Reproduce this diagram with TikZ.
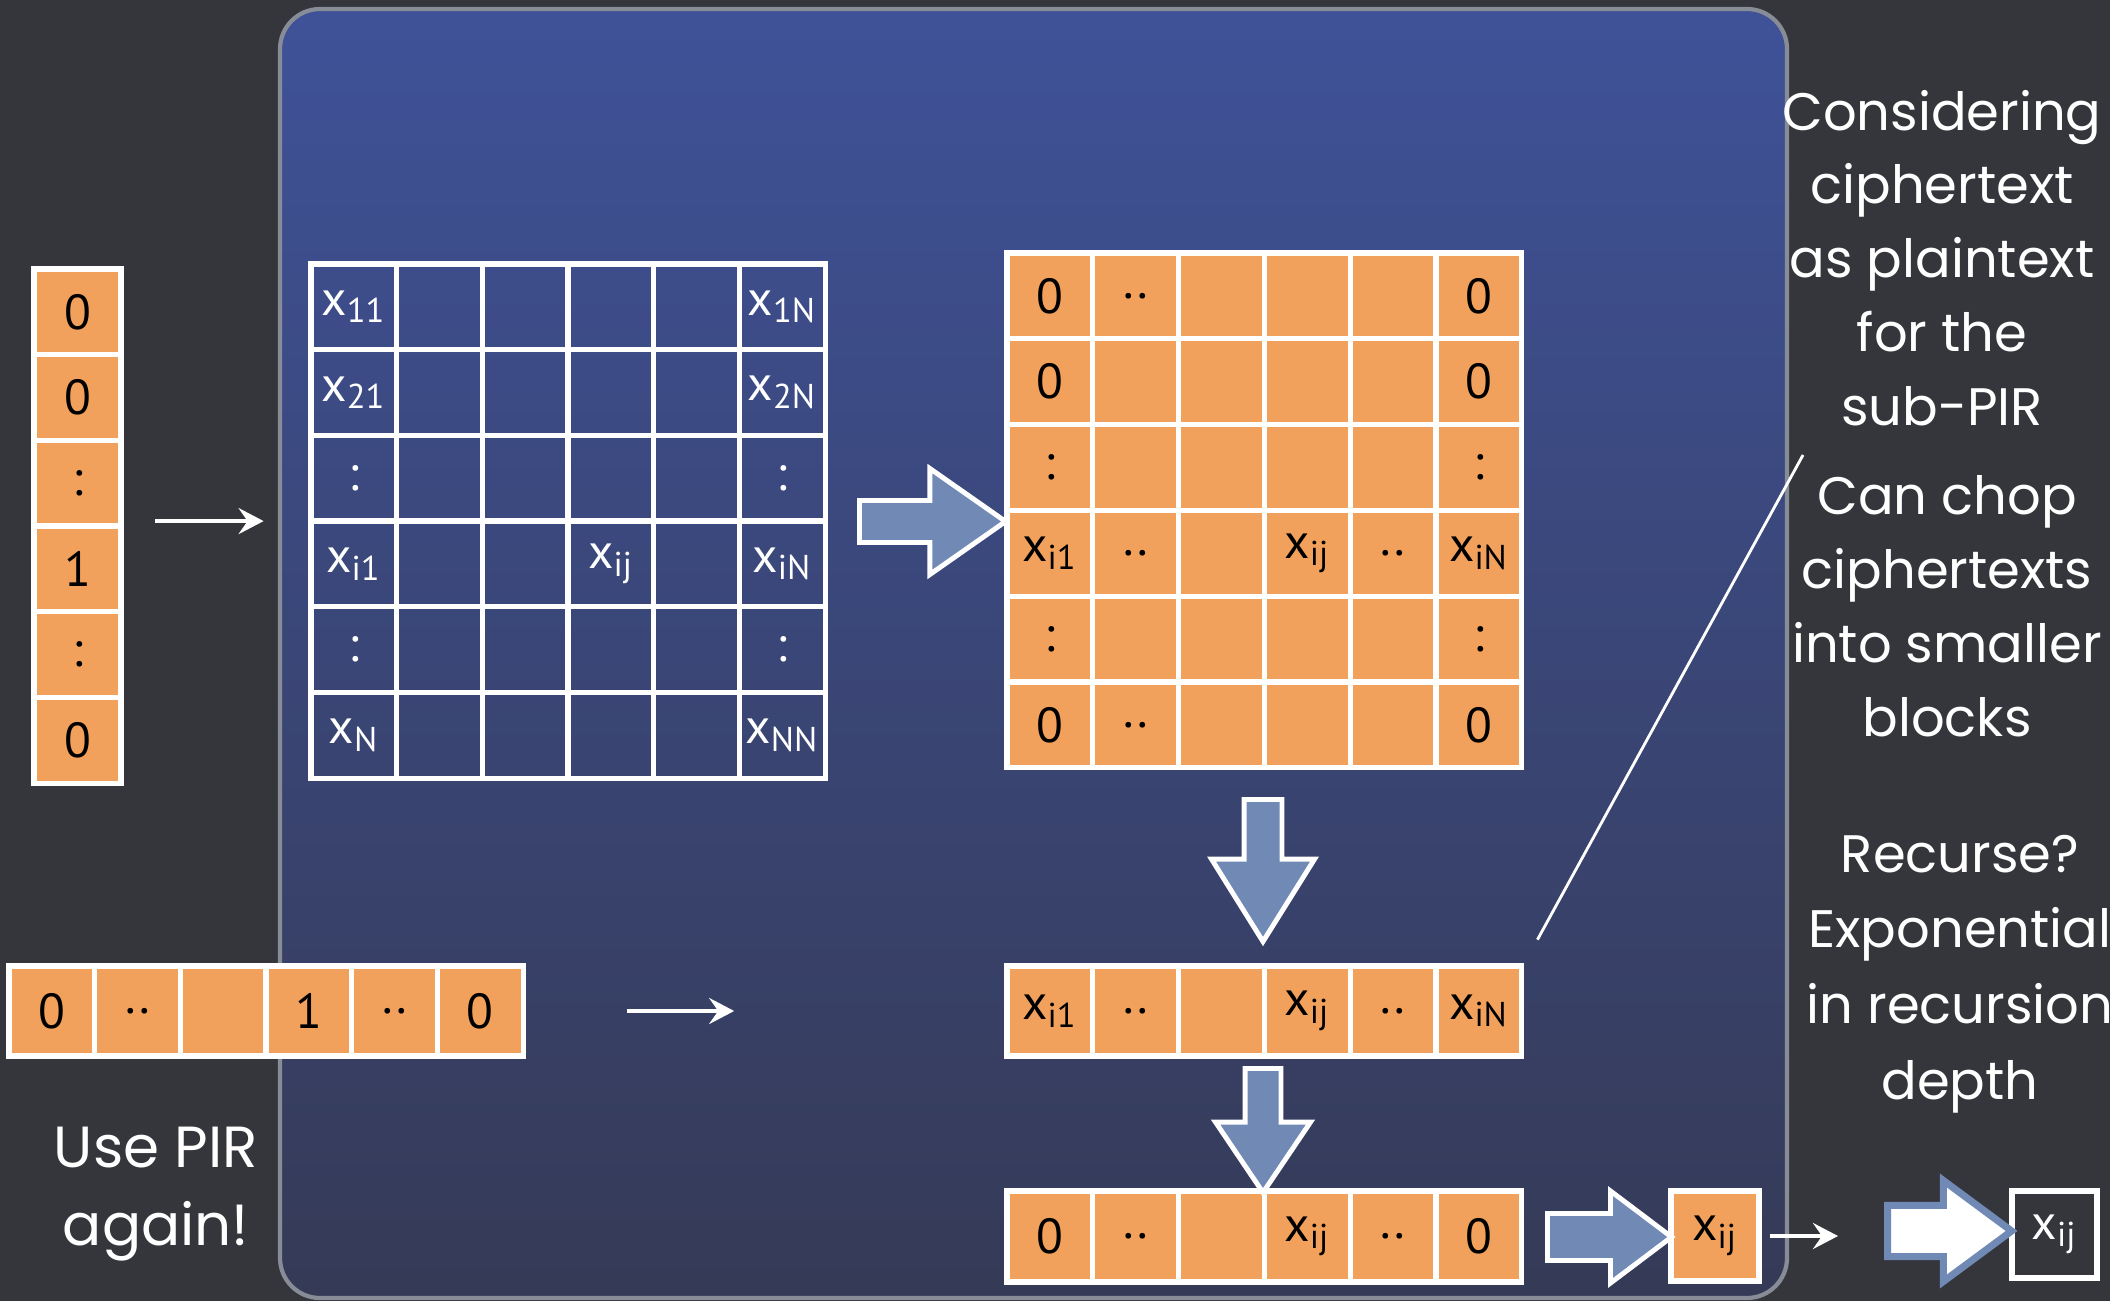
\documentclass[tikz,border=0pt]{standalone}
\usepackage{fontspec}
\setmainfont{Poppins}
\newfontfamily\cellfont{PT Sans}
\usetikzlibrary{shapes.arrows,arrows.meta,calc,fit}

\definecolor{slate}{RGB}{52,54,60}
\definecolor{paneltop}{RGB}{63,82,152}
\definecolor{panelbot}{RGB}{53,58,86}
\definecolor{cellorange}{RGB}{241,161,91}
\definecolor{arrblue}{RGB}{112,137,181}
\definecolor{rim}{RGB}{135,140,150}

\newcommand{\xs}[1]{x\textsubscript{#1}}

\tikzset{
	cellbase/.style={rectangle, draw=white, line width=1.5pt, inner sep=0pt,
		minimum width=0.857cm, minimum height=0.857cm, font=\cellfont\fontsize{14}{16}\selectfont},
	ocell/.style={cellbase, fill=cellorange, text=black},
	bcell/.style={cellbase, text=white},
	bigarr/.style={single arrow, draw=white, line width=1.4pt, fill=arrblue,
		inner sep=0pt, single arrow tip angle=70, anchor=tail},
	thinarr/.style={-{Stealth[length=2.5mm, width=2.6mm, inset=0.9mm]}, white, line width=1.1pt},
	note/.style={text=white, align=center, font=\fontsize{15}{21}\selectfont}
}

\begin{document}
\begin{tikzpicture}[x=0.01cm, y=-0.01cm]
	\useasboundingbox (0,0) rectangle (2110,1301);
	\fill[slate] (0,0) rectangle (2110,1301);
	\draw[rim, line width=1.2pt, rounded corners=0.4cm, top color=paneltop, bottom color=panelbot] (280,9) rectangle (1787,1298);

	% query vector
	\foreach \t [count=\n] in {0,0,:,1,:,0}
		\node[ocell, minimum width=0.87cm] (q-\n) at (77.5, {269+85.7*(\n-0.5)}) {\t};

	% database
	\foreach \t [count=\n] in {{\xs{11}},{},{},{},{},{\xs{1N}}}
		\node[bcell] (d-1-\n) at ({311+85.7*(\n-0.5)}, 306.9) {\t};
	\foreach \t [count=\n] in {{\xs{21}},{},{},{},{},{\xs{2N}}}
		\node[bcell] (d-2-\n) at ({311+85.7*(\n-0.5)}, 392.6) {\t};
	\foreach \t [count=\n] in {:,{},{},{},{},:}
		\node[bcell] (d-3-\n) at ({311+85.7*(\n-0.5)}, 478.2) {\t};
	\foreach \t [count=\n] in {{\xs{i1}},{},{},{\xs{ij}},{},{\xs{iN}}}
		\node[bcell] (d-4-\n) at ({311+85.7*(\n-0.5)}, 563.9) {\t};
	\foreach \t [count=\n] in {:,{},{},{},{},:}
		\node[bcell] (d-5-\n) at ({311+85.7*(\n-0.5)}, 649.6) {\t};
	\foreach \t [count=\n] in {{\xs{N}},{},{},{},{},{\xs{NN}}}
		\node[bcell] (d-6-\n) at ({311+85.7*(\n-0.5)}, 735.3) {\t};

	% answer matrix
	\foreach \t [count=\n] in {0,..,{},{},{},0}
		\node[ocell] (a-1-\n) at ({1007+85.8*(\n-0.5)}, 295.9) {\t};
	\foreach \t [count=\n] in {0,{},{},{},{},0}
		\node[ocell] (a-2-\n) at ({1007+85.8*(\n-0.5)}, 381.7) {\t};
	\foreach \t [count=\n] in {:,{},{},{},{},:}
		\node[ocell] (a-3-\n) at ({1007+85.8*(\n-0.5)}, 467.5) {\t};
	\foreach \t [count=\n] in {{\xs{i1}},..,{},{\xs{ij}},..,{\xs{iN}}}
		\node[ocell] (a-4-\n) at ({1007+85.8*(\n-0.5)}, 553.3) {\t};
	\foreach \t [count=\n] in {:,{},{},{},{},:}
		\node[ocell] (a-5-\n) at ({1007+85.8*(\n-0.5)}, 639.1) {\t};
	\foreach \t [count=\n] in {0,..,{},{},{},0}
		\node[ocell] (a-6-\n) at ({1007+85.8*(\n-0.5)}, 724.9) {\t};

	% rows
	\foreach \t [count=\n] in {{\xs{i1}},..,{},{\xs{ij}},..,{\xs{iN}}}
		\node[ocell, minimum width=0.858cm, minimum height=0.9cm] (s-\n) at ({1007+85.8*(\n-0.5)}, 1011) {\t};
	\foreach \t [count=\n] in {0,..,{},{\xs{ij}},..,0}
		\node[ocell, minimum width=0.858cm, minimum height=0.91cm] (t-\n) at ({1007+85.8*(\n-0.5)}, 1236.5) {\t};
	\foreach \t [count=\n] in {0,..,{},1,..,0}
		\node[ocell, minimum height=0.9cm] (p-\n) at ({9+85.7*(\n-0.5)}, 1011) {\t};
	\node[ocell, minimum width=0.88cm, minimum height=0.9cm] (xo) at (1715,1236) {\xs{ij}};
	\node[bcell, fill=slate, minimum width=0.85cm, minimum height=0.87cm] (xf) at (2054.5,1234.5) {\xs{ij}};

	% block arrows
	\node[bigarr, minimum height=1.46cm, inner ysep=0.185cm, single arrow head extend=0.32cm] (ba) at (857,521.5) {};
	\node[bigarr, rotate=-90, minimum height=1.42cm, inner ysep=0.165cm, single arrow head extend=0.325cm, single arrow tip angle=64] (bb) at (1263,797) {};
	\node[bigarr, rotate=-90, minimum height=1.24cm, inner ysep=0.155cm, single arrow head extend=0.295cm, single arrow tip angle=68] (bc) at (1263,1066) {};
	\node[bigarr, minimum height=1.24cm, inner ysep=0.21cm, single arrow head extend=0.225cm, single arrow tip angle=74] (bd) at (1545,1237) {};
	\node[bigarr, fill=white, draw=arrblue, line width=2pt, minimum height=1.24cm, inner ysep=0.22cm, single arrow head extend=0.25cm, single arrow tip angle=73] (be) at (1884,1231) {};

	% thin arrows
	\node[fit=(q-1)(q-6), inner sep=0pt] (qbox) {};
	\node[fit=(d-1-1)(d-6-6), inner sep=0pt] (dbox) {};
	\draw[thinarr, shorten <=0.31cm, shorten >=0.44cm] (qbox.east |- dbox.west) -- (dbox.west);
	\draw[thinarr, shorten <=1.01cm, shorten >=2.70cm] (p-6.east) -- (s-1.west);
	\draw[thinarr, shorten <=0.08cm, shorten >=0.46cm] (xo.east) -- (xo.east -| be.tail);

	% notes
	\node[note] (cons) at (1942,258) {Considering\\ciphertext\\as plaintext\\for the\\sub-PIR};
	\node[note] (chop) at (1947,606) {Can chop\\ciphertexts\\into smaller\\blocks};
	\node[note, font=\fontsize{15}{21.5}\selectfont] (rec) at (1960,974) {Recurse?\\Exponential\\in recursion\\depth};
	\node[note, font=\fontsize{16.5}{22}\selectfont] (again) at (156,1194) {Use PIR\\again!};
	\coordinate (lnt) at (1803,455);
	\draw[white, line width=0.8pt, shorten >=0.27cm] (lnt) -- (s-6.north east);
\end{tikzpicture}
\end{document}
